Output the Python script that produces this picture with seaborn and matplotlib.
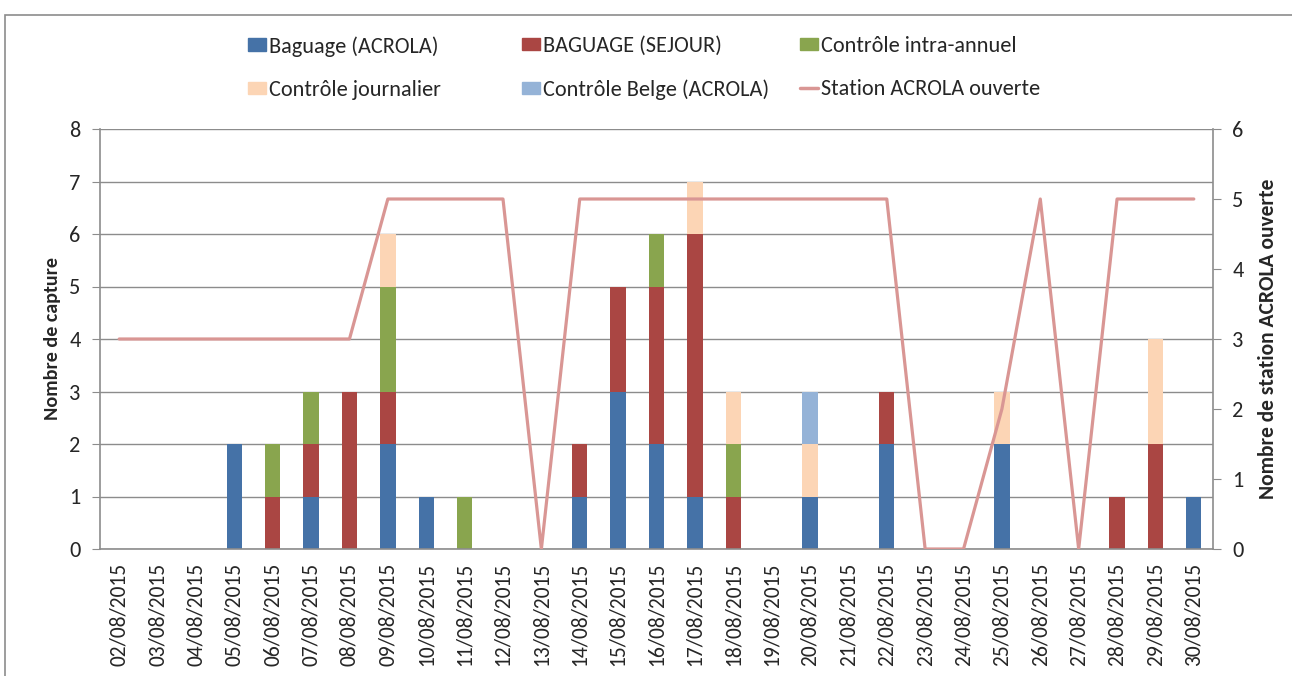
import numpy as np
import pandas as pd
import matplotlib
matplotlib.use("Agg")
import matplotlib.pyplot as plt
import matplotlib.patches as mpatches
from matplotlib.lines import Line2D
import seaborn as sns

dates = ["02/08/2015", "03/08/2015", "04/08/2015", "05/08/2015", "06/08/2015",
         "07/08/2015", "08/08/2015", "09/08/2015", "10/08/2015", "11/08/2015",
         "12/08/2015", "13/08/2015", "14/08/2015", "15/08/2015", "16/08/2015",
         "17/08/2015", "18/08/2015", "19/08/2015", "20/08/2015", "21/08/2015",
         "22/08/2015", "23/08/2015", "24/08/2015", "25/08/2015", "26/08/2015",
         "27/08/2015", "28/08/2015", "29/08/2015", "30/08/2015"]
baguage_acrola = [0, 0, 0, 2, 0, 1, 0, 2, 1, 0, 0, 0, 1, 3, 2, 1, 0, 0, 1, 0, 2, 0, 0, 2, 0, 0, 0, 0, 1]
baguage_sejour = [0, 0, 0, 0, 1, 1, 3, 1, 0, 0, 0, 0, 1, 2, 3, 5, 1, 0, 0, 0, 1, 0, 0, 0, 0, 0, 1, 2, 0]
controle_intra = [0, 0, 0, 0, 1, 1, 0, 2, 0, 1, 0, 0, 0, 0, 1, 0, 1, 0, 0, 0, 0, 0, 0, 0, 0, 0, 0, 0, 0]
controle_journ = [0, 0, 0, 0, 0, 0, 0, 1, 0, 0, 0, 0, 0, 0, 0, 1, 1, 0, 1, 0, 0, 0, 0, 1, 0, 0, 0, 2, 0]
controle_belge = [0, 0, 0, 0, 0, 0, 0, 0, 0, 0, 0, 0, 0, 0, 0, 0, 0, 0, 1, 0, 0, 0, 0, 0, 0, 0, 0, 0, 0]
station_ouverte = [3, 3, 3, 3, 3, 3, 3, 5, 5, 5, 5, 0, 5, 5, 5, 5, 5, 5, 5, 5, 5, 0, 0, 2, 5, 0, 5, 5, 5]

series_names = ["Baguage (ACROLA)", "BAGUAGE (SEJOUR)", "Contrôle intra-annuel",
                "Contrôle journalier", "Contrôle Belge (ACROLA)"]
series_vals = [baguage_acrola, baguage_sejour, controle_intra, controle_journ, controle_belge]
colors = ["#4572A7", "#AA4643", "#89A54E", "#FCD5B5", "#95B3D7"]
line_color = "#D99694"
line_name = "Station ACROLA ouverte"

sns.set_style("white")
plt.rcParams['font.family'] = ['Carlito', 'Liberation Sans Narrow', 'Liberation Sans', 'DejaVu Sans']

W, H = 1292, 676
fig = plt.figure(figsize=(W / 100, H / 100), dpi=100)
ax = fig.add_axes([100 / W, 1 - 549 / H, (1213 - 100) / W, (549 - 129) / H])

n = len(dates)
bottom = np.zeros(n)
for name, vals, c in zip(series_names, series_vals, colors):
    df = pd.DataFrame({"date": dates, "val": vals})
    sns.barplot(data=df, x="date", y="val", color=c, width=0.4, bottom=bottom,
                ax=ax, saturation=1, linewidth=0, label=name, order=dates)
    bottom = bottom + np.array(vals)

ax.set_xlim(-0.5, n - 0.5)
ax.set_ylim(0, 8)
ax.set_yticks(range(0, 9))
ax.grid(axis='y', color='#8c8c8c', linewidth=1)
ax.set_axisbelow(True)
ax.set_xlabel("")
ax.set_ylabel("Nombre de capture", fontsize=14.5, fontweight='bold', labelpad=6)
ax.set_xticks(np.arange(n))
ax.set_xticklabels(dates, rotation=90, fontsize=15.5)
ax.tick_params(axis='x', length=0, pad=10)
ax.set_xticks(np.arange(n + 1) - 0.5, minor=True)
ax.tick_params(axis='x', which='minor', length=6, color='#8c8c8c', direction='out')
ax.tick_params(axis='y', labelsize=16, length=6, color='#8c8c8c', direction='out', left=True, pad=8)
for s in ['top', 'right']:
    ax.spines[s].set_visible(False)
for s in ['left', 'bottom']:
    ax.spines[s].set_color('#8c8c8c')
    ax.spines[s].set_linewidth(1.2)
if ax.get_legend() is not None:
    ax.get_legend().remove()

ax2 = ax.twinx()
ldf = pd.DataFrame({"x": np.arange(n), "y": station_ouverte})
sns.lineplot(data=ldf, x="x", y="y", ax=ax2, color=line_color, linewidth=2.3, sort=False)
ax2.set_ylim(0, 6)
ax2.set_yticks(range(0, 7))
ax2.set_xlim(-0.5, n - 0.5)
ax2.set_ylabel("Nombre de station ACROLA ouverte", fontsize=15.5, fontweight='bold', labelpad=10)
ax2.tick_params(axis='y', labelsize=16, length=6, color='#8c8c8c', direction='out', right=True, pad=8)
for s in ['top', 'left', 'bottom']:
    ax2.spines[s].set_visible(False)
ax2.spines['right'].set_color('#8c8c8c')
ax2.spines['right'].set_linewidth(1.2)
ax2.set_xlabel("")

handles = [mpatches.Patch(color=c) for c in colors] + [Line2D([0], [0], color=line_color, lw=2.5)]
labels = series_names + [line_name]
col_x = [248, 522, 800]
for ci, (i, j) in enumerate([(0, 3), (1, 4), (2, 5)]):
    fig.legend([handles[i], handles[j]], [labels[i], labels[j]], ncol=1,
               loc='upper left', bbox_to_anchor=(col_x[ci] / W, 1 - 36 / H), frameon=False,
               fontsize=16, handlelength=0.8, handleheight=0.5, handletextpad=0.15,
               labelspacing=1.05, borderpad=0, borderaxespad=0)

border = mpatches.Rectangle((5 / W, -0.1), 1.2, 1 - 15 / H + 0.1, transform=fig.transFigure,
                            fill=False, edgecolor='#8c8c8c', linewidth=1.2)
fig.patches.append(border)

fig.savefig("out.png", dpi=100)
